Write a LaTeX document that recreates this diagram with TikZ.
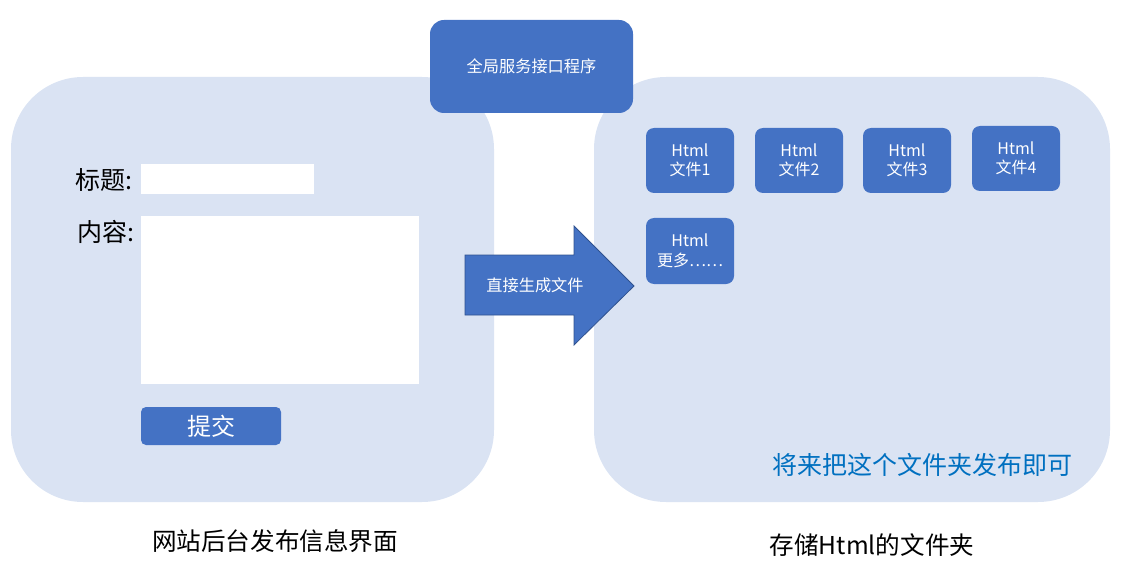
\documentclass[tikz,border=0pt]{standalone}
\usepackage{fontspec}
\setmainfont{Noto Sans CJK SC}
\definecolor{panel}{HTML}{DAE3F3}
\definecolor{dblue}{HTML}{4472C4}
\definecolor{edgeblue}{HTML}{2F528F}
\definecolor{notec}{HTML}{0070C0}
\tikzset{
  panelbox/.style={fill=panel, draw=none, rounded corners=72pt},
  filebox/.style={fill=dblue, draw=none, rounded corners=8pt, text=white, align=center, inner sep=0pt,
    font=\fontsize{16}{19.5}\selectfont},
  inputbox/.style={fill=white, draw=none},
  lbl/.style={font=\fontsize{25}{27}\selectfont, inner sep=0pt},
}
\begin{document}
\begin{tikzpicture}[x=1pt,y=-1pt]
\useasboundingbox (0,0) rectangle (1127,580);
% panels
\path[panelbox] (11,77) rectangle (494,502);
\path[panelbox] (594,77) rectangle (1110,502);
% top service box
\node[filebox, rounded corners=14pt, minimum width=203pt, minimum height=93pt, font=\fontsize{16.2}{19}\selectfont] (svc) at (531.5,66.5) {全局服务接口程序};
% left form
\node[lbl, anchor=east] (tlbl) at (133,180) {标题:};
\node[inputbox, minimum width=173pt, minimum height=30pt, inner sep=0pt] (tin) at (227.5,179) {};
\node[lbl, anchor=east] (clbl) at (135,232) {内容:};
\node[inputbox, minimum width=278pt, minimum height=168pt, inner sep=0pt] (cin) at (280,300) {};
\node[filebox, rounded corners=5pt, minimum width=140pt, minimum height=38pt, font=\fontsize{24}{26}\selectfont] (submit) at (211,426) {提交};
% arrow
\path[fill=dblue, draw=edgeblue, line width=0.8pt, line join=miter]
  (465,255) -- (574,255) -- (574,226) -- (634,286) -- (574,345) -- (574,315) -- (465,315) -- cycle;
\node[text=white, font=\fontsize{16.2}{19}\selectfont, inner sep=0pt] (gen) at (535,285) {直接生成文件};
% file boxes
\node[filebox, minimum width=88pt, minimum height=65pt] (f1) at (690,160.5) {Html\\文件1};
\node[filebox, minimum width=88pt, minimum height=65pt] (f2) at (799,160.5) {Html\\文件2};
\node[filebox, minimum width=88pt, minimum height=65pt] (f3) at (907,160.5) {Html\\文件3};
\node[filebox, minimum width=88pt, minimum height=65pt] (f4) at (1016,158.5) {Html\\文件4};
\node[filebox, minimum width=88pt, minimum height=66pt] (f5) at (690,251) {Html\\更多……};
% note
\node[text=notec, font=\fontsize{25}{27}\selectfont, inner sep=0pt] (note) at (922,465) {将来把这个文件夹发布即可};
% captions
\node[font=\fontsize{24.6}{27}\selectfont, inner sep=0pt] (cap1) at (275,541) {网站后台发布信息界面};
\node[font=\fontsize{24.6}{27}\selectfont, inner sep=0pt] (cap2) at (872,545) {存储Html的文件夹};
\end{tikzpicture}
\end{document}
